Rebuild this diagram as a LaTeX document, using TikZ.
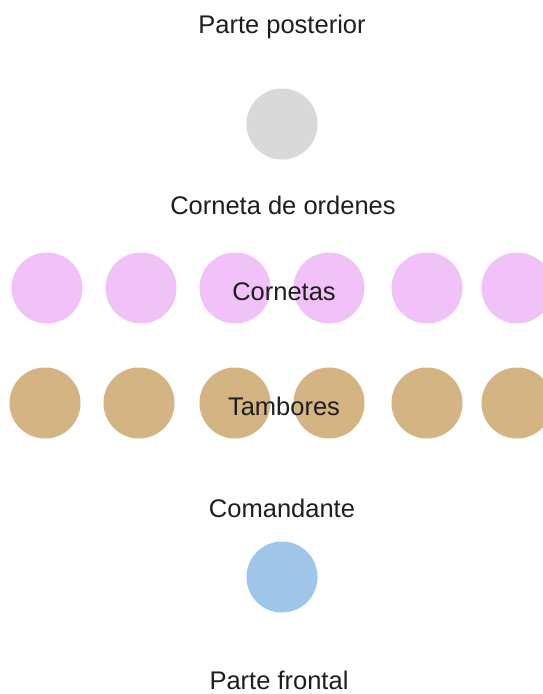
\documentclass[tikz,border=0pt]{standalone}
\usepackage{fontspec}
\setmainfont{Liberation Sans}
\definecolor{grisc}{HTML}{D9D9D9}
\definecolor{rosac}{HTML}{F0C2F8}
\definecolor{marronc}{HTML}{D4B483}
\definecolor{azulc}{HTML}{9FC5E8}
\definecolor{textoc}{HTML}{1E1E1E}
\begin{document}
\begin{tikzpicture}[x=1pt,y=-1pt,
  dot/.style={circle,inner sep=0pt,minimum size=71pt,draw=none},
  lbl/.style={anchor=base,inner sep=0pt,text=textoc,font=\fontsize{25.5}{30}\selectfont}]
\fill[white] (0,0) rectangle (543,694);
\useasboundingbox (0,0) rectangle (543,694);
% circles
\node[dot,fill=grisc] (g) at (282,124) {};
\foreach \x [count=\i] in {47,141,235,329,427,517}
  \node[dot,fill=rosac] (p\i) at (\x,288) {};
\foreach \x [count=\i] in {45,139,235,329,427,517}
  \node[dot,fill=marronc] (t\i) at (\x,403) {};
\node[dot,fill=azulc] (c) at (282,577) {};
% labels
\node[lbl] (lpost) at (282,33) {Parte posterior};
\node[lbl] (lcor) at (283,214) {Corneta de ordenes};
\node[lbl] (lcors) at (284,300) {Cornetas};
\node[lbl] (ltam) at (284,415) {Tambores};
\node[lbl] (lcom) at (282,517) {Comandante};
\node[lbl] (lfront) at (279,689) {Parte frontal};
\end{tikzpicture}
\end{document}
